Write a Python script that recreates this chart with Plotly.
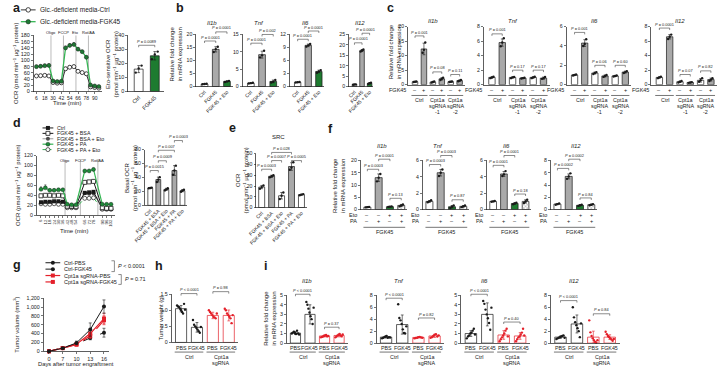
import plotly.graph_objects as go

W, H = 723, 372
FONT = "Liberation Sans, Arial, sans-serif"
INK = "#1a1a1a"
GRAY = "#a9a9a9"
GREEN_BAR = "#1e7b30"
GREEN_LINE = "#35b653"
RED = "#e4202a"
MINUS = "\u2013"

# ============================ DATA ============================
# ---- a ----
a_time = [6, 12, 18, 24, 30, 36, 42, 48, 54, 60, 66, 72, 78, 84, 90, 96]
a_time_ticks = [6, 18, 30, 42, 54, 66, 78, 90]
a_ctrl = [50, 51, 52, 50, 29, 27, 28, 73, 78, 80, 65, 61, 57, 15, 13, 11]
a_ctrl_sd = [3, 3, 3, 3, 2, 2, 2, 5, 5, 5, 4, 4, 4, 2, 2, 2]
a_fgk = [80, 81, 83, 84, 34, 32, 33, 140, 148, 151, 136, 128, 110, 21, 18, 16]
a_fgk_sd = [5, 5, 5, 5, 3, 3, 3, 6, 6, 6, 5, 5, 5, 3, 3, 3]
a_inject_time = [27, 45, 63, 81]
a_inject_name = ["Oligo", "FCCP", "Eto", "Rot/AA"]
a_series = ["Glc.-deficient media-Ctrl", "Glc.-deficient media-FGK45"]
a_bar_groups = ["Ctrl", "FGK45"]
a_bar_mean = [16, 25.5]
a_bar_sd = [2.5, 3.0]
a_bar_dots = [[13.5, 16.5, 18.5], [23.0, 26.5, 28.5]]
a_bar_p = "0.0089"

# ---- b ----
b_genes = ["Il1b", "Tnf", "Il6", "Il12"]
b_groups = ["Ctrl", "FGK45", "FGK45 + Eto"]
b_mean = [[1.0, 14.3, 2.0], [1.0, 9.2, 1.5], [1.0, 9.5, 3.5], [1.0, 17.3, 1.6]]
b_sd = [[0.1, 1.0, 0.2], [0.1, 1.0, 0.4], [0.05, 0.3, 0.3], [0.1, 0.5, 0.3]]
b_dots = [
    [[0.9, 1.0, 1.1], [13.3, 14.4, 15.3], [1.8, 2.0, 2.2]],
    [[0.9, 1.0, 1.1], [8.4, 9.0, 10.3], [1.2, 1.4, 1.9]],
    [[0.95, 1.0, 1.05], [9.2, 9.5, 9.8], [3.2, 3.5, 3.8]],
    [[0.9, 1.0, 1.1], [16.8, 17.3, 17.8], [1.3, 1.6, 1.9]],
]
b_ymax = [20, 15, 12, 25]
b_ystep = [5, 5, 3, 5]
b_p = [["0.0001", "0.0001"], ["0.0001", "0.002"], ["0.0001", "0.0001"], ["0.0001", "0.0001"]]

# ---- c ----
c_genes = ["Il1b", "Tnf", "Il6", "Il12"]
c_fgk = [MINUS, "+", MINUS, "+", MINUS, "+"]
c_lines = [["Ctrl"], ["Cpt1a", "sgRNA", "-1"], ["Cpt1a", "sgRNA", "-2"]]
c_mean = [
    [1.0, 12.3, 0.9, 2.0, 1.0, 1.4],
    [1.0, 5.8, 1.0, 0.9, 1.0, 0.9],
    [1.0, 4.3, 1.2, 0.9, 0.9, 1.3],
    [1.0, 6.6, 0.4, 0.3, 0.6, 0.7],
]
c_sd = [
    [0.1, 2.0, 0.2, 0.4, 0.15, 0.2],
    [0.1, 0.5, 0.08, 0.05, 0.1, 0.15],
    [0.05, 0.35, 0.1, 0.1, 0.05, 0.1],
    [0.1, 0.3, 0.1, 0.05, 0.25, 0.2],
]
c_dots = [
    [[0.9, 1.0, 1.1], [11.0, 12.0, 14.5], [0.7, 0.9, 1.1], [1.6, 2.0, 2.4], [0.9, 1.0, 1.1], [1.2, 1.4, 1.6]],
    [[0.9, 1.0, 1.1], [5.3, 5.8, 6.4], [0.9, 1.0, 1.05], [0.85, 0.9, 0.95], [0.9, 1.0, 1.1], [0.8, 0.9, 1.05]],
    [[0.95, 1.0, 1.05], [4.0, 4.2, 4.7], [1.1, 1.2, 1.3], [0.8, 0.9, 1.0], [0.85, 0.9, 0.95], [1.2, 1.3, 1.4]],
    [[0.9, 1.0, 1.1], [6.3, 6.6, 6.9], [0.3, 0.4, 0.5], [0.25, 0.3, 0.35], [0.4, 0.6, 0.9], [0.5, 0.7, 0.9]],
]
c_ymax = [20, 8, 6, 8]
c_ystep = [5, 2, 2, 2]
c_p = [["0.001", "0.08", "0.11"], ["0.001", "0.17", "0.17"], ["0.001", "0.06", "0.60"], ["0.0001", "0.07", "0.82"]]

# ---- d ----
d_time = [6, 12, 18, 24, 30, 36, 42, 48, 54, 66, 72, 78, 90, 96, 102]
d_series = ["Ctrl", "FGK45 + BSA", "FGK45 + BSA + Eto", "FGK45 + PA", "FGK45 + PA + Eto"]
d_ctrl = [26, 27, 27, 28, 28, 27, 18, 17, 17, 45, 46, 47, 14, 13, 13]
d_bsa = [39, 40, 40, 39, 40, 39, 18, 18, 17, 66, 67, 68, 15, 14, 14]
d_bsa_eto = [25, 25, 26, 26, 26, 25, 16, 16, 16, 44, 43, 44, 13, 13, 12]
d_pa = [52, 55, 50, 50, 51, 51, 22, 21, 21, 89, 89, 92, 22, 22, 22]
d_pa_eto = [23, 22, 22, 23, 22, 22, 15, 15, 15, 34, 34, 35, 12, 12, 12]
d_pa_sd = [5, 6, 3, 3, 3, 3, 2, 2, 2, 3, 3, 3, 2, 2, 2]
d_bsa_sd = [3, 3, 3, 2, 2, 2, 2, 2, 2, 3, 3, 3, 2, 2, 2]
d_inject_time = [39, 60, 84]
d_inject_name = ["Oligo", "FCCP", "Rot/AA"]
d_bar_mean = [25, 37, 23, 50, 21]
d_bar_sd = [0.5, 3.5, 1.5, 7.0, 1.5]
d_bar_dots = [[24.5, 25, 25.5], [33.5, 37, 40.5], [21.5, 23, 24.5], [44, 50, 57], [19.5, 21, 22.5]]
d_bar_p = ["0.0015", "0.0009", "0.007", "0.0003"]

# ---- e ----
e_mean = [19, 29, 11, 38, 12]
e_sd = [1.5, 1.0, 3.0, 3.5, 0.5]
e_dots = [[17.5, 19, 20.5], [28, 29, 30], [8, 11, 14], [35, 37, 42], [11.5, 12, 12.5]]
e_p = ["0.0003", "0.0007", "0.028", "0.0005"]

# ---- f ----
f_genes = ["Il1b", "Tnf", "Il6", "Il12"]
f_eto = [MINUS, MINUS, "+", "+"]
f_pa = [MINUS, "+", MINUS, "+"]
f_mean = [[1.0, 13.0, 1.2, 1.7], [1.0, 4.5, 0.35, 0.4], [1.0, 4.35, 0.75, 1.0], [0.9, 5.4, 0.7, 0.8]]
f_sd = [[0.1, 1.5, 0.1, 0.4], [0.1, 0.4, 0.15, 0.1], [0.05, 0.3, 0.1, 0.2], [0.1, 0.4, 0.1, 0.1]]
f_dots = [
    [[0.9, 1.0, 1.1], [11.5, 13.0, 14.5], [1.1, 1.2, 1.3], [1.3, 1.7, 2.1]],
    [[0.9, 1.0, 1.15], [4.1, 4.5, 4.9], [0.2, 0.35, 0.5], [0.3, 0.4, 0.5]],
    [[0.95, 1.0, 1.05], [4.1, 4.3, 4.7], [0.65, 0.75, 0.85], [0.8, 1.0, 1.2]],
    [[0.8, 0.9, 1.0], [5.0, 5.4, 5.9], [0.6, 0.7, 0.8], [0.7, 0.8, 0.9]],
]
f_ymax = [20, 6, 6, 8]
f_ystep = [5, 2, 2, 2]
f_p = [["0.0003", "0.0001", "0.13"], ["0.0003", "0.0003", "0.87"], ["0.0001", "0.0001", "0.18"], ["0.0002", "0.0002", "0.84"]]

# ---- g ----
g_days = ["0", "7", "10", "13", "16"]
g_series = ["Ctrl-PBS", "Ctrl-FGK45", "Cpt1a sgRNA-PBS", "Cpt1a sgRNA-FGK45"]
g_ctrl_pbs = [0, 70, 190, 490, 1010]
g_ctrl_pbs_sd = [0, 15, 40, 150, 150]
g_ctrl_fgk = [0, 75, 165, 300, 420]
g_ctrl_fgk_sd = [0, 10, 30, 40, 100]
g_sg_pbs = [0, 70, 160, 400, 740]
g_sg_pbs_sd = [0, 10, 30, 80, 120]
g_sg_fgk = [0, 75, 150, 350, 700]
g_sg_fgk_sd = [0, 10, 30, 60, 100]
g_p = ["< 0.0001", "= 0.71"]

# ---- h ----
hi_treat = ["PBS", "FGK45", "PBS", "FGK45"]
hi_lines = [["Ctrl"], ["Cpt1a", "sgRNA"]]
h_mean = [1.05, 0.47, 0.84, 0.84]
h_sd = [0.1, 0.15, 0.1, 0.17]
h_dots = [
    [1.15, 1.12, 1.1, 1.05, 1.0, 0.95, 0.9, 1.2, 1.02],
    [0.7, 0.55, 0.5, 0.45, 0.4, 0.35, 0.3, 0.48],
    [1.0, 0.95, 0.9, 0.85, 0.8, 0.78, 0.75, 0.9],
    [1.05, 1.0, 0.9, 0.85, 0.8, 0.75, 0.6, 0.85],
]
h_p = ["< 0.0001", "= 0.98"]

# ---- i ----
i_genes = ["Il1b", "Tnf", "Il6", "Il12"]
i_mean = [[1.05, 3.0, 0.75, 0.8], [1.0, 3.1, 0.95, 1.2], [1.0, 3.0, 0.85, 0.75], [1.0, 3.2, 1.0, 1.0]]
i_sd = [[0.15, 1.0, 0.1, 0.15], [0.15, 1.6, 0.1, 0.25], [0.3, 1.2, 0.45, 0.35], [0.2, 1.5, 1.0, 0.4]]
i_dots = [
    [[1.0, 1.1, 1.2, 1.05, 0.95, 1.3, 1.0, 0.9], [4.3, 4.0, 3.6, 3.2, 2.8, 2.5, 2.0, 3.7],
     [0.6, 0.65, 0.7, 0.75, 0.8, 0.85, 0.7, 0.75], [0.6, 0.7, 0.8, 0.85, 0.95, 0.8, 0.7, 0.9]],
    [[0.8, 0.9, 1.0, 1.1, 1.2, 0.9, 1.0, 0.95], [6.5, 4.2, 3.8, 3.2, 2.3, 1.7, 1.6, 2.8],
     [0.8, 0.85, 0.9, 1.0, 1.05, 0.95, 0.9], [0.9, 1.0, 1.2, 1.4, 1.5, 1.1, 1.3]],
    [[0.5, 0.7, 0.8, 1.0, 1.1, 1.3, 1.5, 0.9], [4.4, 4.1, 3.5, 3.0, 2.6, 2.1, 1.4, 3.7],
     [0.2, 0.4, 0.6, 0.8, 1.0, 1.3, 1.5, 0.7], [0.2, 0.4, 0.6, 0.7, 0.9, 1.1, 1.5, 0.8]],
    [[0.7, 0.8, 0.9, 1.0, 1.1, 1.2, 1.3, 0.9], [6.0, 4.3, 3.5, 3.0, 2.5, 2.0, 1.0, 3.3],
     [3.8, 1.8, 1.2, 0.8, 0.5, 0.2, 0.1, 0.5], [1.9, 1.5, 1.2, 1.0, 0.8, 0.6, 0.4, 0.7]],
]
i_ymax = [5, 8, 5, 8]
i_ystep = [1, 2, 1, 2]
i_p = [["< 0.0001", "= 0.37"], ["< 0.0001", "= 0.82"], ["< 0.0001", "= 0.40"], ["< 0.0001", "= 0.84"]]

OCR_UNIT = "(pmol min<sup>\u22121</sup> \u00b5g<sup>\u22121</sup> protein)"
RFC = "Relative fold change<br>in mRNA expression"

# ============================ HELPERS ============================
fig = go.Figure()
L = {}
shapes, ann = [], []
AX = {}
_n = [0]


def fmt(v):
    return f"{int(v):,}" if float(v).is_integer() else f"{v}"


def ticks(ymax, st):
    return [k * st for k in range(int(round(ymax / st)) + 1)]


def axes(name, box, xr, yr, yvals, ytext=None, xvals=None, xtext=None, xangle=0,
         xticklen=0, xfont=5.2, yfont=5.2, visible=True):
    _n[0] += 1
    s = "" if _n[0] == 1 else str(_n[0])
    x0, x1, y0, y1 = box
    common = dict(showline=visible, linecolor=INK, linewidth=0.7, showgrid=False, zeroline=False,
                  fixedrange=True, visible=visible, tickcolor=INK, tickwidth=0.6)
    xd = dict(common, domain=[x0 / W, x1 / W], range=xr, anchor="y" + s,
              tickangle=xangle, ticks="outside" if xticklen else "",
              tickfont=dict(size=xfont, family=FONT, color=INK))
    if xticklen:
        xd["ticklen"] = xticklen
    if xvals:
        xd.update(tickmode="array", tickvals=xvals, ticktext=xtext, showticklabels=True)
    else:
        xd.update(showticklabels=False)
    L["xaxis" + s] = xd
    yd = dict(common, domain=[1 - y1 / H, 1 - y0 / H], range=yr, anchor="x" + s,
              ticks="outside", ticklen=2, tickfont=dict(size=yfont, family=FONT, color=INK))
    if yvals:
        yd.update(tickmode="array", tickvals=yvals, ticktext=ytext or [fmt(v) for v in yvals])
    else:
        yd.update(showticklabels=False)
    L["yaxis" + s] = yd
    AX[name] = dict(x="x" + s, y="y" + s, box=box, yr=yr, xr=xr)
    return AX[name]


def ypix(ax, v):
    x0, x1, y0, y1 = ax["box"]
    r0, r1 = ax["yr"]
    return y1 - (v - r0) / (r1 - r0) * (y1 - y0)


def text(x, y, s, size=5.5, xanchor="center", yanchor="middle", angle=0, xref="paper", color=INK):
    ann.append(dict(x=x / W if xref == "paper" else x, y=1 - y / H, xref=xref, yref="paper",
                    text=s, showarrow=False, xanchor=xanchor, yanchor=yanchor, textangle=angle,
                    borderpad=0, font=dict(size=size, family=FONT, color=color)))


def lines_text(x, y_first, parts, xref, size=5.4, step=6.2):
    for m, part in enumerate(parts):
        text(x, y_first + m * step, part, size=size, xref=xref)


def hline(xref, xa, xb, y, color=INK, width=0.6):
    if xref == "paper":
        xa, xb = xa / W, xb / W
    shapes.append(dict(type="line", xref=xref, yref="paper", x0=xa, x1=xb, y0=1 - y / H, y1=1 - y / H,
                       line=dict(color=color, width=width)))


def vline(ax, xv, v0, v1, color="#8c8c8c", width=0.6):
    shapes.append(dict(type="line", xref=ax["x"], yref="paper", x0=xv, x1=xv,
                       y0=1 - ypix(ax, v0) / H, y1=1 - ypix(ax, v1) / H,
                       line=dict(color=color, width=width), layer="below"))


def ptxt(p):
    p = p if p[0] in "<=" else "= " + p
    return "<i>P</i> " + p


def bracket(ax, i, j, v, label, size=3.9):
    yb = ypix(ax, v)
    yt = 1 - yb / H
    d = 2.0 / H
    shapes.append(dict(type="path", xref=ax["x"], yref="paper",
                       path=f"M {i},{yt - d} L {i},{yt} L {j},{yt} L {j},{yt - d}",
                       line=dict(color=INK, width=0.5)))
    text((i + j) / 2, yb - 0.4, label, size=size, yanchor="bottom", xref=ax["x"])


def bar_set(ax, means, sds, fills, edges, width, dots, patterns=None, dsize=2.4, spread=0.18):
    pos = list(range(len(means)))
    marker = dict(color=fills, line=dict(color=edges, width=0.7))
    if patterns:
        marker["pattern"] = dict(shape=patterns, fgcolor="#8a8a8a", size=2.5, solidity=0.35)
    fig.add_trace(go.Bar(x=pos, y=means, width=width, marker=marker, xaxis=ax["x"], yaxis=ax["y"],
                         hoverinfo="skip"))
    for col in dict.fromkeys(edges):
        idx = [k for k in pos if edges[k] == col]
        fig.add_trace(go.Scatter(x=idx, y=[means[k] for k in idx], mode="markers",
                                 marker=dict(size=1, color="rgba(0,0,0,0)"),
                                 error_y=dict(type="data", array=[sds[k] for k in idx], color=col,
                                              thickness=0.6, width=1.4),
                                 xaxis=ax["x"], yaxis=ax["y"], cliponaxis=False, hoverinfo="skip"))
    for k in pos:
        n = len(dots[k])
        xs = [k + (-spread + 2 * spread * m / (n - 1) if n > 1 else 0) for m in range(n)]
        fig.add_trace(go.Scatter(x=xs, y=dots[k], mode="markers",
                                 marker=dict(size=dsize, color=edges[k]),
                                 xaxis=ax["x"], yaxis=ax["y"], cliponaxis=False, hoverinfo="skip"))


# canvas (pixel coordinates) for legend glyphs
CV = axes("canvas", (0, W, 0, H), [0, W], [H, 0], [], visible=False)


def legend_item(y, x0, x1, label, line, marker, size=5.5):
    fig.add_trace(go.Scatter(x=[x0, x1], y=[y, y], mode="lines", line=line, xaxis=CV["x"], yaxis=CV["y"]))
    fig.add_trace(go.Scatter(x=[(x0 + x1) / 2], y=[y], mode="markers", marker=marker,
                             xaxis=CV["x"], yaxis=CV["y"]))
    text(x1 + 3, y, label, size=size, xanchor="left")


def letter(x, y, s):
    text(x, y, f"<b>{s}</b>", size=12.5, xanchor="left")


# ============================ PANEL a ============================
letter(1, 5, "a")
legend_item(7, 10, 25, a_series[0], dict(color="#333333", width=1),
            dict(size=4.5, color="white", line=dict(color=INK, width=0.8)), size=6.5)
legend_item(19, 10, 25, a_series[1], dict(color=GREEN_LINE, width=1.3),
            dict(size=4.5, color="#1f7a35", line=dict(color=INK, width=0.5)), size=6.5)

axA = axes("a", (23, 92, 33, 90), [2, 100], [0, 180], list(range(0, 181, 20)),
           xvals=a_time_ticks, xtext=[str(t) for t in a_time_ticks], xticklen=2, xfont=5.0, yfont=5.5)
for t, nm in zip(a_inject_time, a_inject_name):
    vline(axA, t, 0, 180)
    text(t, 30, nm, size=4.0, xref=axA["x"])
fig.add_trace(go.Scatter(x=a_time, y=a_ctrl, mode="lines+markers", line=dict(color="#333333", width=1),
                         marker=dict(size=4, color="white", line=dict(color=INK, width=0.8)),
                         error_y=dict(type="data", array=a_ctrl_sd, arrayminus=[0] * len(a_ctrl_sd),
                                      symmetric=False, color=INK, thickness=0.5, width=1),
                         xaxis=axA["x"], yaxis=axA["y"], cliponaxis=False))
fig.add_trace(go.Scatter(x=a_time, y=a_fgk, mode="lines+markers", line=dict(color=GREEN_LINE, width=1.3),
                         marker=dict(size=4, color="#1f7a35", line=dict(color=INK, width=0.5)),
                         error_y=dict(type="data", array=a_fgk_sd, arrayminus=[0] * len(a_fgk_sd),
                                      symmetric=False, color=INK, thickness=0.5, width=1),
                         xaxis=axA["x"], yaxis=axA["y"], cliponaxis=False))
text(5, 61, "OCR " + OCR_UNIT, size=6, angle=-90)
text(57, 102, "Time (min)", size=6)

axAb = axes("ab", (119, 155, 33, 90), [-0.65, 1.55], [0, 40], [0, 10, 20, 30, 40],
            xvals=[0, 1], xtext=a_bar_groups, xangle=-45, xfont=5.5, yfont=5.5)
bar_set(axAb, a_bar_mean, a_bar_sd, ["white", GREEN_BAR], [INK, INK], 0.55, a_bar_dots)
bracket(axAb, 0, 1, 33, ptxt(a_bar_p))
text(103, 62, "Eto-sensitive OCR<br>" + OCR_UNIT, size=6, angle=-90)

# ============================ PANEL b ============================
letter(167, 5, "b")
text(168, 52, RFC, size=6, angle=-90)
b_boxes = [(188, 225, 32, 85), (235, 272, 32, 85), (283, 318, 32, 85), (343, 368, 32, 85)]
b_brk = [[17.5, 21.0], [12.5, 15.0], [10.9, 12.8], [21.0, 25.6]]
for g, box in enumerate(b_boxes):
    ax = axes(f"b{g}", box, [-0.75, 2.5], [0, b_ymax[g]], ticks(b_ymax[g], b_ystep[g]),
              xvals=[0, 1, 2], xtext=b_groups, xangle=-45, xfont=5)
    bar_set(ax, b_mean[g], b_sd[g], ["white", GRAY, GREEN_BAR], [INK] * 3, 0.6, b_dots[g])
    bracket(ax, 0, 1, b_brk[g][0], ptxt(b_p[g][0]))
    bracket(ax, 1, 2, b_brk[g][1], ptxt(b_p[g][1]))
    text(0.7, 20.5, f"<i>{b_genes[g]}</i>", size=6, xref=ax["x"])

# ============================ PANEL c ============================
letter(381, 5, "c")
text(390, 50, RFC, size=6, angle=-90)
c_boxes = [(403, 461, 24, 83), (480, 547, 24, 83), (564, 630, 24, 83), (650, 717, 24, 83)]
c_brk = [[16.8, 4.4, 3.5], [7.0, 2.0, 2.0], [5.4, 2.0, 2.0], [7.8, 1.4, 1.9]]
for g, box in enumerate(c_boxes):
    ax = axes(f"c{g}", box, [-0.8, 5.6], [0, c_ymax[g]], ticks(c_ymax[g], c_ystep[g]))
    bar_set(ax, c_mean[g], c_sd[g], ["white", GRAY] * 3, [INK] * 6, 0.62, c_dots[g], spread=0.15)
    for k, (i0, i1) in enumerate([(0, 1), (2, 3), (4, 5)]):
        bracket(ax, i0, i1, c_brk[g][k], ptxt(c_p[g][k]))
        hline(ax["x"], i0 - 0.4, i1 + 0.4, 94)
        lines_text((i0 + i1) / 2, 98.5, c_lines[k], ax["x"], size=5.4, step=6.0)
    for k, sgn in enumerate(c_fgk):
        text(k, 88.5, sgn, size=5.5, xref=ax["x"])
    text(box[0] - 1, 88.5, "FGK45", size=5.5, xanchor="right")
    text(2, 18, f"<i>{c_genes[g]}</i>", size=6, xref=ax["x"])

# ============================ PANEL d ============================
letter(1, 122, "d")
d_styles = [
    (dict(color=INK, width=1), dict(symbol="square", size=4, color=INK)),
    (dict(color=INK, width=1), dict(symbol="square", size=4, color="white", line=dict(color=INK, width=0.8))),
    (dict(color="#9a9a9a", width=1), dict(symbol="circle", size=4, color="#4a4a4a")),
    (dict(color=GREEN_LINE, width=1.2), dict(symbol="circle", size=4, color="#1f8a3a", line=dict(color=INK, width=0.4))),
    (dict(color=GREEN_LINE, width=1, dash="dash"), dict(symbol="circle", size=4, color="white", line=dict(color=INK, width=0.7))),
]
for k, (nm, ys) in enumerate(zip(d_series, [127, 132.5, 138, 143.5, 149])):
    legend_item(ys, 32, 43, nm, d_styles[k][0], d_styles[k][1], size=5.3)

axD = axes("d", (26, 106, 155, 215.7), [0, 108], [0, 120], list(range(0, 121, 20)),
           xvals=d_time, xtext=[str(t) for t in d_time], xangle=-90, xticklen=2, xfont=4.3, yfont=5.3)
for t, nm in zip(d_inject_time, d_inject_name):
    vline(axD, t, 0, 112)
    text(t, 160, nm, size=4.0, xref=axD["x"])
d_data = [d_ctrl, d_bsa, d_bsa_eto, d_pa, d_pa_eto]
d_err = [None, d_bsa_sd, None, d_pa_sd, None]
for k in [2, 4, 0, 1, 3]:
    tr = dict(x=d_time, y=d_data[k], mode="lines+markers", line=d_styles[k][0], marker=d_styles[k][1],
              xaxis=axD["x"], yaxis=axD["y"], cliponaxis=False)
    if d_err[k]:
        tr["error_y"] = dict(type="data", array=d_err[k], arrayminus=[0] * len(d_err[k]), symmetric=False,
                             color=INK, thickness=0.5, width=1)
    fig.add_trace(go.Scatter(**tr))
text(7, 185, "OCR " + OCR_UNIT, size=6, angle=-90)
text(64, 232, "Time (min)", size=6)

axDb = axes("db", (135.7, 179, 149, 205.7), [-0.7, 4.6], [0, 80], [0, 20, 40, 60, 80],
            xvals=[0, 1, 2, 3, 4], xtext=d_series, xangle=-45, xfont=5)
bar_set(axDb, d_bar_mean, d_bar_sd, ["white", GRAY, "white", GRAY, "white"], [INK] * 5, 0.6, d_bar_dots)
for (i0, i1), v, p in zip([(0, 1), (1, 2), (1, 3), (3, 4)], [50, 64, 79, 93], d_bar_p):
    bracket(axDb, i0, i1, v, ptxt(p))
text(122, 178, "Basal OCR<br>" + OCR_UNIT, size=6, angle=-90)

# ============================ PANEL e ============================
letter(220, 127, "e")
axE = axes("e", (249, 301, 153, 208), [-0.55, 4.6], [0, 50], [0, 10, 20, 30, 40, 50],
           xvals=[0, 1, 2, 3, 4], xtext=d_series, xangle=-45, xfont=5)
bar_set(axE, e_mean, e_sd, ["white", GRAY, "white", GRAY, "white"], [INK] * 5, 0.6, e_dots)
for (i0, i1), v, p in zip([(0, 1), (1, 2), (1, 3), (3, 4)], [35.5, 43.5, 51, 43.5], e_p):
    bracket(axE, i0, i1, v, ptxt(p))
text(272, 136, "SRC", size=6)
text(235, 180, "OCR<br>" + OCR_UNIT, size=6, angle=-90)

# ============================ PANEL f ============================
letter(321, 128, "f")
text(333, 185, RFC, size=6, angle=-90)
f_boxes = [(355, 402, 160, 210), (418, 465, 160, 210), (483, 528, 160, 210), (548, 595, 160, 210)]
f_title_x = [377, 434, 503, 574]
f_brk = [[16.4, 20.5, 4.6], [5.5, 6.6, 1.2], [5.4, 6.6, 1.9], [6.7, 8.2, 1.9]]
for g, box in enumerate(f_boxes):
    ax = axes(f"f{g}", box, [-0.6, 3.5], [0, f_ymax[g]], ticks(f_ymax[g], f_ystep[g]))
    bar_set(ax, f_mean[g], f_sd[g], ["white", GRAY, GREEN_BAR, "white"], [INK] * 4, 0.62, f_dots[g],
            patterns=["", "", "", "x"], spread=0.15)
    for (i0, i1), v, p in zip([(0, 1), (1, 2), (2, 3)], f_brk[g], f_p[g]):
        bracket(ax, i0, i1, v, ptxt(p))
    for k in range(4):
        text(k, 215.7, f_eto[k], size=5.5, xref=ax["x"])
        text(k, 221.2, f_pa[k], size=5.5, xref=ax["x"])
    text(box[0] - 3, 215.7, "Eto", size=5.5, xanchor="right")
    text(box[0] - 3, 221.2, "PA", size=5.5, xanchor="right")
    hline(ax["x"], -0.35, 3.35, 228)
    text(1.5, 233, "FGK45", size=5.5, xref=ax["x"])
    text(f_title_x[g], 145.3, f"<i>{f_genes[g]}</i>", size=6)

# ============================ PANEL g ============================
letter(1, 266, "g")
g_data = [g_ctrl_pbs, g_ctrl_fgk, g_sg_pbs, g_sg_fgk]
g_sd = [g_ctrl_pbs_sd, g_ctrl_fgk_sd, g_sg_pbs_sd, g_sg_fgk_sd]
g_styles = [
    (dict(color=INK, width=1), dict(symbol="circle", size=4, color=INK), INK),
    (dict(color=INK, width=1, dash="dash"), dict(symbol="circle", size=4, color=INK), INK),
    (dict(color=RED, width=1.2), dict(symbol="square", size=4, color=RED), RED),
    (dict(color=RED, width=1.2, dash="dash"), dict(symbol="square", size=4, color=RED), RED),
]
for k, yy in enumerate([264, 270.5, 277, 283.5]):
    legend_item(yy, 35, 50, g_series[k], g_styles[k][0], g_styles[k][1], size=5.5)
shapes.append(dict(type="path", xref="paper", yref="paper",
                   path=f"M {102 / W},{1 - 262 / H} L {105 / W},{1 - 262 / H} L {105 / W},{1 - 273 / H} L {102 / W},{1 - 273 / H}",
                   line=dict(color=INK, width=0.5)))
text(108, 267.5, ptxt(g_p[0]), size=5.5, xanchor="left")
shapes.append(dict(type="path", xref="paper", yref="paper",
                   path=f"M {109 / W},{1 - 276 / H} L {112 / W},{1 - 276 / H} L {112 / W},{1 - 286 / H} L {109 / W},{1 - 286 / H}",
                   line=dict(color=INK, width=0.5)))
text(115, 281, ptxt(g_p[1]), size=5.5, xanchor="left")

axG = axes("g", (33, 100, 300, 354), [-0.4, 4.4], [0, 1200], list(range(0, 1201, 200)),
           xvals=list(range(len(g_days))), xtext=g_days, xticklen=2, xfont=5.5, yfont=5.3)
for k in [1, 3, 2, 0]:
    fig.add_trace(go.Scatter(x=list(range(len(g_days))), y=g_data[k], mode="lines+markers",
                             line=g_styles[k][0], marker=g_styles[k][1],
                             error_y=dict(type="data", array=g_sd[k], color=g_styles[k][2], thickness=0.6, width=1.5),
                             xaxis=axG["x"], yaxis=axG["y"], cliponaxis=False))
text(5, 327, "Tumor volume (mm<sup>3</sup>)", size=6, angle=-90)
text(66, 367.3, "Days after tumor engraftment", size=5.8)


# ============================ PANELS h & i ============================
def hi_labels(ax):
    for k, t in enumerate(hi_treat):
        text(k, 350.3, t, size=5.3, xref=ax["x"])
    for k, (i0, i1) in enumerate([(0, 1), (2, 3)]):
        hline(ax["x"], i0 - 0.4, i1 + 0.4, 354.8)
        lines_text((i0 + i1) / 2, 359.6, hi_lines[k], ax["x"], size=5.4, step=6.3)


letter(145, 267, "h")
axH = axes("h", (163, 230, 296, 345), [-0.6, 3.55], [0, 1.5], [0, 0.5, 1.0, 1.5],
           ytext=["0", "0.5", "1.0", "1.5"], yfont=5.3)
bar_set(axH, h_mean, h_sd, ["white"] * 4, [INK, INK, RED, RED], 0.7, h_dots, dsize=2.4, spread=0.25)
bracket(axH, 0, 1, 1.52, ptxt(h_p[0]))
bracket(axH, 2, 3, 1.58, ptxt(h_p[1]))
hi_labels(axH)
text(152, 320, "Tumor weight (g)", size=6, angle=-90)

letter(256, 267, "i")
text(263, 320, RFC, size=6, angle=-90)
i_boxes = [(280, 342, 297, 345.7), (371, 440, 297, 345.7), (457, 527, 297, 345.7), (548, 618, 297, 345.7)]
i_brk = [[5.1, 1.66], [7.5, 4.2], [5.1, 2.2], [7.1, 4.9]]
for g, box in enumerate(i_boxes):
    ax = axes(f"i{g}", box, [-0.6, 3.6], [0, i_ymax[g]], ticks(i_ymax[g], i_ystep[g]), yfont=5.3)
    bar_set(ax, i_mean[g], i_sd[g], ["white"] * 4, [INK, INK, RED, RED], 0.7, i_dots[g], dsize=2.4, spread=0.25)
    bracket(ax, 0, 1, i_brk[g][0], ptxt(i_p[g][0]))
    bracket(ax, 2, 3, i_brk[g][1], ptxt(i_p[g][1]))
    hi_labels(ax)
    text(0.8, 283, f"<i>{i_genes[g]}</i>", size=6, xref=ax["x"])

# ============================ LAYOUT ============================
fig.update_layout(width=W, height=H, margin=dict(l=0, r=0, t=0, b=0), paper_bgcolor="white",
                  plot_bgcolor="rgba(0,0,0,0)", showlegend=False, font=dict(family=FONT, color=INK),
                  shapes=shapes, annotations=ann, bargap=0, **L)
fig.write_html("out.html", config={"displayModeBar": False, "staticPlot": True},
               post_script="document.body.style.margin='0';document.body.style.overflow='hidden';")
